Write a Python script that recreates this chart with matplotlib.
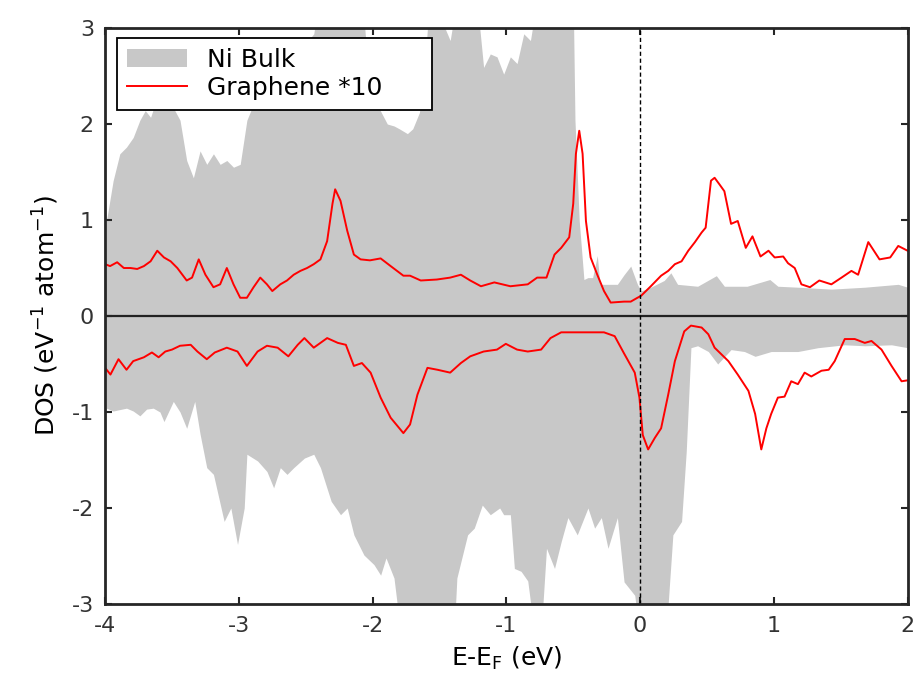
import matplotlib
matplotlib.use("Agg")
import matplotlib.pyplot as plt

plt.rcParams["axes.unicode_minus"] = False

# Ni bulk DOS, spin up (values above 3 are off the top of the frame)
ni_up_e = [-4.00, -3.99, -3.94, -3.89, -3.84, -3.79, -3.74, -3.70, -3.66, -3.61, -3.575, -3.54,
           -3.49, -3.44, -3.39, -3.34, -3.29, -3.24, -3.19, -3.14, -3.09, -3.04, -2.99, -2.94,
           -2.89, -2.84, -2.74, -2.66, -2.54, -2.44, -2.40, -2.10, -2.07, -2.03, -2.02, -1.99,
           -1.95, -1.89, -1.84, -1.80, -1.74, -1.70, -1.65, -1.61, -1.59, -1.55, -1.42, -1.37,
           -1.22, -1.17, -1.12, -1.07, -1.02, -0.97, -0.92, -0.87, -0.82, -0.77, -0.50, -0.487,
           -0.455, -0.42, -0.39, -0.355, -0.32, -0.30, -0.27, -0.17, -0.12, -0.07, -0.02, 0.007,
           0.08, 0.18, 0.23, 0.28, 0.43, 0.57, 0.63, 0.80, 0.97, 1.03, 1.18, 1.43, 1.68, 1.93, 2.00]
ni_up = [0.0, 0.99, 1.41, 1.69, 1.76, 1.86, 2.04, 2.14, 2.07, 2.28, 2.45, 2.38,
         2.17, 2.04, 1.62, 1.44, 1.72, 1.58, 1.69, 1.58, 1.62, 1.55, 1.58, 2.04,
         2.21, 2.38, 2.56, 2.73, 2.77, 2.94, 3.30, 3.30, 3.20, 2.50, 2.45, 2.25,
         2.16, 2.00, 1.98, 1.95, 1.90, 1.95, 2.12, 2.60, 3.00, 3.30, 2.87, 3.30,
         3.30, 2.59, 2.73, 2.70, 2.52, 2.70, 2.63, 2.94, 2.87, 3.30, 3.30, 2.04,
         0.99, 0.38, 0.40, 0.40, 0.63, 0.33, 0.33, 0.33, 0.43, 0.52, 0.33, 0.26,
         0.30, 0.37, 0.45, 0.33, 0.31, 0.42, 0.31, 0.31, 0.38, 0.31, 0.30, 0.28, 0.30, 0.33, 0.30]

# Ni bulk DOS, spin down (values below -3 are off the bottom of the frame)
ni_dn_e = [-4.00, -3.99, -3.94, -3.84, -3.79, -3.74, -3.69, -3.64, -3.59, -3.56, -3.49, -3.44,
           -3.39, -3.33, -3.29, -3.24, -3.19, -3.11, -3.06, -3.01, -2.96, -2.94, -2.86, -2.79,
           -2.74, -2.69, -2.64, -2.59, -2.51, -2.44, -2.39, -2.31, -2.24, -2.19, -2.14, -2.065,
           -1.99, -1.94, -1.90, -1.84, -1.79, -1.39, -1.37, -1.29, -1.24, -1.18, -1.12, -1.05,
           -1.02, -0.97, -0.94, -0.89, -0.84, -0.79, -0.74, -0.70, -0.64, -0.59, -0.54, -0.47,
           -0.39, -0.34, -0.29, -0.24, -0.17, -0.12, -0.04, -0.005, 0.195, 0.245, 0.31, 0.345,
           0.38, 0.43, 0.51, 0.58, 0.68, 0.78, 0.86, 0.98, 1.18, 1.33, 1.53, 1.68, 1.88, 2.00]
ni_dn = [0.0, -0.96, -0.99, -0.96, -0.99, -1.04, -0.97, -0.96, -1.00, -1.10, -0.89, -1.00,
         -1.17, -0.89, -1.23, -1.58, -1.65, -2.14, -2.00, -2.38, -2.00, -1.44, -1.51, -1.62,
         -1.79, -1.58, -1.65, -1.58, -1.48, -1.44, -1.58, -1.93, -2.07, -2.00, -2.28, -2.49,
         -2.59, -2.70, -2.52, -2.73, -3.30, -3.30, -2.73, -2.28, -2.21, -1.97, -2.07, -2.00,
         -2.07, -2.07, -2.63, -2.66, -2.76, -3.30, -3.30, -2.42, -2.63, -2.35, -2.10, -2.28,
         -2.00, -2.21, -2.10, -2.42, -2.10, -2.77, -2.91, -3.30, -3.30, -2.28, -2.14, -1.41,
         -0.33, -0.31, -0.37, -0.50, -0.35, -0.37, -0.42, -0.37, -0.37, -0.33, -0.30, -0.31, -0.30, -0.33]

# Graphene DOS x10, spin up
gr_up_e = [-4.00, -3.963, -3.91, -3.86, -3.81, -3.76, -3.71, -3.66, -3.61, -3.56, -3.51, -3.46,
           -3.39, -3.35, -3.30, -3.25, -3.19, -3.14, -3.09, -3.04, -2.99, -2.94, -2.89, -2.84,
           -2.79, -2.75, -2.69, -2.64, -2.59, -2.54, -2.49, -2.44, -2.39, -2.34, -2.30, -2.28,
           -2.24, -2.19, -2.14, -2.09, -2.02, -1.94, -1.865, -1.77, -1.72, -1.64, -1.52, -1.42,
           -1.34, -1.27, -1.19, -1.09, -0.97, -0.84, -0.77, -0.70, -0.64, -0.59, -0.53, -0.50,
           -0.48, -0.455, -0.43, -0.405, -0.37, -0.32, -0.27, -0.22, -0.12, -0.07, -0.02, 0.007,
           0.08, 0.157, 0.21, 0.26, 0.31, 0.36, 0.41, 0.46, 0.49, 0.53, 0.557, 0.594,
           0.63, 0.68, 0.73, 0.79, 0.84, 0.90, 0.96, 1.006, 1.07, 1.106, 1.156, 1.206,
           1.27, 1.34, 1.43, 1.506, 1.58, 1.63, 1.706, 1.79, 1.87, 1.93, 2.00]
gr_up = [0.54, 0.52, 0.56, 0.50, 0.50, 0.49, 0.52, 0.57, 0.68, 0.61, 0.57, 0.50,
         0.37, 0.40, 0.59, 0.43, 0.30, 0.33, 0.50, 0.33, 0.19, 0.19, 0.30, 0.40,
         0.33, 0.26, 0.33, 0.37, 0.43, 0.47, 0.50, 0.54, 0.59, 0.78, 1.17, 1.32,
         1.20, 0.89, 0.64, 0.59, 0.58, 0.60, 0.52, 0.42, 0.42, 0.37, 0.38, 0.40,
         0.43, 0.37, 0.31, 0.35, 0.31, 0.33, 0.40, 0.40, 0.64, 0.71, 0.82, 1.17,
         1.69, 1.93, 1.69, 0.99, 0.61, 0.43, 0.26, 0.14, 0.15, 0.15, 0.19, 0.21,
         0.31, 0.42, 0.47, 0.54, 0.57, 0.68, 0.77, 0.87, 0.92, 1.41, 1.44, 1.37,
         1.30, 0.96, 0.99, 0.71, 0.83, 0.62, 0.68, 0.61, 0.62, 0.55, 0.50, 0.33,
         0.30, 0.37, 0.33, 0.40, 0.47, 0.43, 0.77, 0.59, 0.61, 0.73, 0.68]

# Graphene DOS x10, spin down
gr_dn_e = [-4.00, -3.96, -3.90, -3.84, -3.79, -3.71, -3.65, -3.60, -3.55, -3.50, -3.44, -3.36,
           -3.31, -3.24, -3.18, -3.09, -3.01, -2.94, -2.86, -2.79, -2.71, -2.63, -2.56, -2.51,
           -2.44, -2.34, -2.26, -2.20, -2.14, -2.08, -2.015, -1.94, -1.865, -1.77, -1.72, -1.665,
           -1.59, -1.515, -1.42, -1.34, -1.27, -1.17, -1.07, -1.004, -0.92, -0.84, -0.74, -0.67,
           -0.59, -0.47, -0.27, -0.19, -0.12, -0.04, -0.005, 0.02, 0.06, 0.11, 0.157, 0.21,
           0.26, 0.33, 0.38, 0.46, 0.51, 0.557, 0.66, 0.73, 0.81, 0.86, 0.906, 0.944,
           0.98, 1.03, 1.08, 1.13, 1.18, 1.23, 1.28, 1.356, 1.41, 1.455, 1.53, 1.605,
           1.68, 1.73, 1.805, 1.88, 1.955, 2.00]
gr_dn = [-0.54, -0.61, -0.45, -0.56, -0.47, -0.43, -0.38, -0.43, -0.37, -0.35, -0.31, -0.30,
         -0.37, -0.45, -0.38, -0.33, -0.37, -0.52, -0.37, -0.31, -0.33, -0.42, -0.30, -0.23,
         -0.33, -0.23, -0.28, -0.30, -0.52, -0.49, -0.59, -0.85, -1.06, -1.22, -1.13, -0.82,
         -0.54, -0.56, -0.59, -0.49, -0.42, -0.37, -0.35, -0.29, -0.35, -0.37, -0.35, -0.23,
         -0.17, -0.17, -0.17, -0.21, -0.39, -0.59, -0.85, -1.24, -1.39, -1.27, -1.17, -0.82,
         -0.47, -0.16, -0.10, -0.12, -0.19, -0.33, -0.47, -0.61, -0.78, -1.02, -1.39, -1.17,
         -1.02, -0.85, -0.84, -0.68, -0.71, -0.59, -0.63, -0.57, -0.56, -0.47, -0.24, -0.24,
         -0.28, -0.26, -0.35, -0.52, -0.68, -0.67]

x_ticks = [-4, -3, -2, -1, 0, 1, 2]
y_ticks = [-3, -2, -1, 0, 1, 2, 3]

grey = "#c8c8c8"

fig = plt.figure(figsize=(9.14, 6.84), dpi=100)
ax = fig.add_axes([0.115, 0.117, 0.878, 0.842])

ax.fill_between(ni_up_e, 0, ni_up, color=grey, lw=0, label="Ni Bulk")
ax.fill_between(ni_dn_e, 0, ni_dn, color=grey, lw=0)
ax.plot(gr_up_e, gr_up, color="red", lw=1.4, solid_joinstyle="round", label="Graphene *10")
ax.plot(gr_dn_e, gr_dn, color="red", lw=1.4, solid_joinstyle="round")

ax.axhline(0, color="#222222", lw=1.6)
ax.axvline(0, color="black", lw=1.0, ls=(0, (3, 2)))

ax.set_xlim(-4, 2)
ax.set_ylim(-3, 3)
ax.set_xticks(x_ticks)
ax.set_yticks(y_ticks)
ax.tick_params(direction="in", length=5, width=1.5, top=True, right=True,
               labelsize=16, labelcolor="#333333", colors="#262626")
ax.tick_params(axis="x", pad=9)
ax.tick_params(axis="y", pad=8)
for s in ax.spines.values():
    s.set_linewidth(2.0)
    s.set_color("#262626")

ax.set_xlabel("E-E$_\\mathregular{F}$ (eV)", fontsize=18, labelpad=6)
ax.set_ylabel("DOS (eV$^\\mathregular{-1}$ atom$^\\mathregular{-1}$)", fontsize=18, labelpad=8)

leg = ax.legend(loc="upper left", bbox_to_anchor=(0.015, 0.983, 0.392, 0.0), mode="expand",
                borderaxespad=0, fontsize=18, frameon=True, fancybox=False,
                handlelength=2.4, handletextpad=0.8, borderpad=0.4, labelspacing=0.15)
leg.get_frame().set_edgecolor("black")
leg.get_frame().set_linewidth(1.3)
leg.get_frame().set_alpha(1)

fig.savefig("out.png", dpi=100)
